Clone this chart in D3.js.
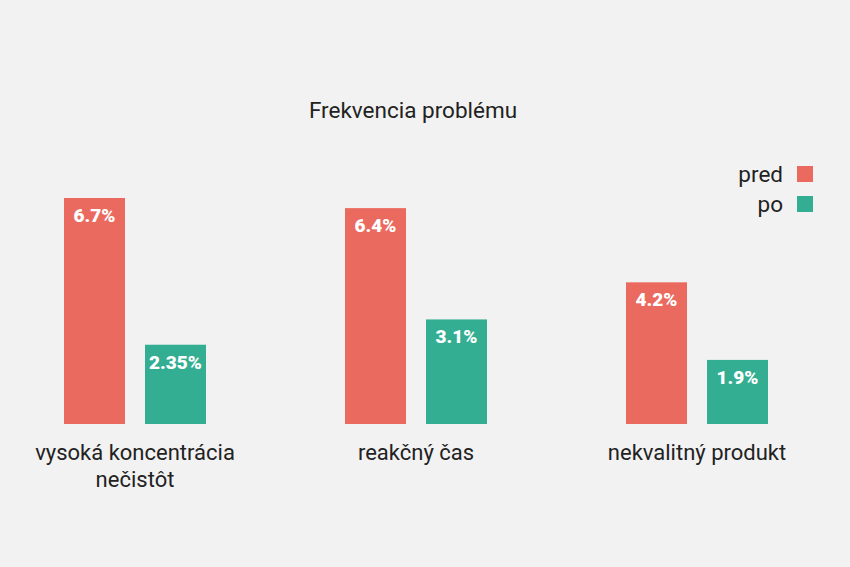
<!DOCTYPE html>
<html>
<head>
<meta charset="utf-8">
<script src="https://cdn.jsdelivr.net/npm/d3@7"></script>
<style>
  html, body { margin: 0; padding: 0; background: #f2f2f2; }
  svg { display: block; }
</style>
</head>
<body>
<div id="chart"></div>
<script>
// categories and series
var categories = [['vysoká koncentrácia', 'nečistôt'], ['reakčný čas'], ['nekvalitný produkt']];
var seriesNames = ['pred', 'po'];
var predValues = [6.7, 6.4, 4.2];
var poValues = [2.35, 3.1, 1.9];
var valueLabels = [['6.7%', '2.35%'], ['6.4%', '3.1%'], ['4.2%', '1.9%']];
var colors = ['#eb6a60', '#34ae92'];

var W = 850, H = 567;
var baseline = 424;

var svg = d3.select('#chart')
  .append('svg')
  .attr('width', W)
  .attr('height', H);

svg.append('rect')
  .attr('width', W)
  .attr('height', H)
  .attr('fill', '#f2f2f2');

var keys = categories.map(function(c, i) { return 'c' + i; });

var xScale = d3.scaleBand().domain(keys).range([-5.5, 837.5]).padding(0);
var xInner = d3.scaleBand().domain(seriesNames).range([0, 142]).paddingInner(20 / 81);
var yScale = d3.scaleLinear().domain([0, 6.7]).range([baseline, 198]);

var rows = categories.map(function(c, i) {
  return {key: keys[i], label: c, values: [predValues[i], poValues[i]], text: valueLabels[i]};
});

var groups = svg.append('g')
  .selectAll('.group')
  .data(rows)
  .enter()
  .append('g')
  .attr('class', 'group')
  .attr('transform', function(d) {
    return 'translate(' + (xScale(d.key) + (xScale.bandwidth() - 142) / 2) + ',0)';
  });

groups.selectAll('rect')
  .data(function(d) {
    return d.values.map(function(v, j) { return {s: seriesNames[j], v: v, t: d.text[j], j: j}; });
  })
  .enter()
  .append('rect')
  .attr('x', function(d) { return xInner(d.s); })
  .attr('y', function(d) { return yScale(d.v); })
  .attr('width', xInner.bandwidth())
  .attr('height', function(d) { return baseline - yScale(d.v); })
  .attr('fill', function(d) { return colors[d.j]; });

groups.selectAll('.val')
  .data(function(d) {
    return d.values.map(function(v, j) { return {s: seriesNames[j], v: v, t: d.text[j]}; });
  })
  .enter()
  .append('text')
  .attr('class', 'val')
  .attr('x', function(d) { return xInner(d.s) + xInner.bandwidth() / 2; })
  .attr('y', function(d) { return yScale(d.v) + 24; })
  .attr('text-anchor', 'middle')
  .attr('fill', '#fff')
  .style('font-family', 'Roboto, sans-serif')
  .style('font-weight', 900)
  .style('font-size', '19px')
  .text(function(d) { return d.t; });

// category labels
var xAxis = d3.axisBottom(xScale).tickSize(0).tickFormat('');
svg.append('g')
  .attr('class', 'axis x-axis')
  .attr('transform', 'translate(0,' + baseline + ')')
  .call(xAxis)
  .call(function(g) { g.select('.domain').remove(); });

svg.append('g')
  .selectAll('.cat')
  .data(rows)
  .enter()
  .append('text')
  .attr('class', 'cat')
  .attr('x', function(d) { return xScale(d.key) + xScale.bandwidth() / 2; })
  .attr('y', 460)
  .attr('text-anchor', 'middle')
  .attr('fill', '#222')
  .style('font-family', 'Roboto, sans-serif')
  .style('font-size', '22px')
  .each(function(d) {
    var t = d3.select(this);
    d.label.forEach(function(line, k) {
      t.append('tspan')
        .attr('x', xScale(d.key) + xScale.bandwidth() / 2)
        .attr('dy', k === 0 ? 0 : 27)
        .text(line);
    });
  });

// title
svg.append('text')
  .text('Frekvencia problému')
  .attr('x', 413)
  .attr('y', 118)
  .attr('text-anchor', 'middle')
  .attr('fill', '#222')
  .style('font-family', 'Roboto, sans-serif')
  .style('font-size', '22.5px');

// legend
var legend = svg.append('g')
  .selectAll('.legend')
  .data(seriesNames)
  .enter()
  .append('g')
  .attr('class', 'legend')
  .attr('transform', function(d, i) { return 'translate(0,' + (166 + i * 30) + ')'; });

legend.append('rect')
  .attr('x', 797)
  .attr('width', 16)
  .attr('height', 16)
  .attr('fill', function(d, i) { return colors[i]; });

legend.append('text')
  .attr('x', 783)
  .attr('y', 16)
  .attr('text-anchor', 'end')
  .attr('fill', '#222')
  .style('font-family', 'Roboto, sans-serif')
  .style('font-size', '22.5px')
  .text(function(d) { return d; });
</script>
</body>
</html>
